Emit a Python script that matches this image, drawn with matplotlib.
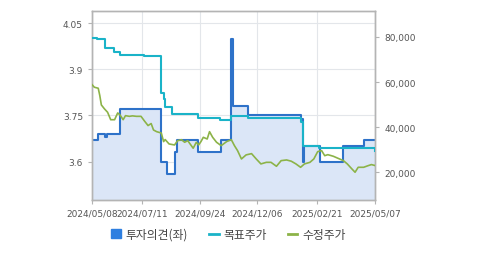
import matplotlib
matplotlib.use("Agg")
import matplotlib.pyplot as plt
import matplotlib.dates as mdates
from matplotlib.lines import Line2D
from matplotlib.patches import Patch
from matplotlib.ticker import FuncFormatter
import pandas as pd

# 투자의견(좌) - step series on left axis
opinion_dates = ["2024-05-08", "2024-05-16", "2024-05-25", "2024-05-27", "2024-06-13",
                 "2024-08-04", "2024-08-12", "2024-08-22", "2024-08-25", "2024-09-21",
                 "2024-10-21", "2024-11-03", "2024-11-05", "2024-11-25", "2025-01-31",
                 "2025-02-03", "2025-02-05", "2025-02-25", "2025-03-26", "2025-04-22",
                 "2025-05-07"]
opinion = [3.67, 3.69, 3.68, 3.69, 3.77,
           3.60, 3.56, 3.63, 3.67, 3.63,
           3.67, 4.00, 3.78, 3.75, 3.74,
           3.60, 3.65, 3.60, 3.65, 3.67,
           3.67]

# 목표주가 - step series on right axis
target_dates = ["2024-05-08", "2024-05-14", "2024-05-25", "2024-06-05", "2024-06-13",
                "2024-07-14", "2024-08-04", "2024-08-05", "2024-08-08", "2024-08-10",
                "2024-08-19", "2024-08-26", "2024-09-21", "2024-10-20", "2024-11-03",
                "2024-11-25", "2025-01-31", "2025-02-03", "2025-02-24", "2025-05-06",
                "2025-05-07"]
target = [79700, 79300, 75000, 73200, 72150,
          71450, 62800, 55000, 52500, 48800,
          45700, 46000, 44000, 43300, 45000,
          44200, 42200, 31800, 30800, 29600,
          29600]

# 수정주가 - adjusted close on right axis
price_dates = ["2024-05-08", "2024-05-11", "2024-05-16", "2024-05-18", "2024-05-20",
               "2024-05-24", "2024-05-28", "2024-06-01", "2024-06-06", "2024-06-10",
               "2024-06-13", "2024-06-17", "2024-06-20", "2024-06-25", "2024-06-29",
               "2024-07-04", "2024-07-10", "2024-07-14", "2024-07-19", "2024-07-23",
               "2024-07-26", "2024-07-30", "2024-08-05", "2024-08-08", "2024-08-10",
               "2024-08-15", "2024-08-22", "2024-08-26", "2024-08-31", "2024-09-04",
               "2024-09-08", "2024-09-15", "2024-09-19", "2024-09-22", "2024-09-25",
               "2024-09-28", "2024-10-03", "2024-10-06", "2024-10-10", "2024-10-15",
               "2024-10-21", "2024-10-28", "2024-11-03", "2024-11-07", "2024-11-11",
               "2024-11-16", "2024-11-22", "2024-11-29", "2024-12-05", "2024-12-11",
               "2024-12-18", "2024-12-24", "2024-12-31", "2025-01-06", "2025-01-13",
               "2025-01-19", "2025-01-25", "2025-01-31", "2025-02-05", "2025-02-12",
               "2025-02-17", "2025-02-22", "2025-02-27", "2025-03-03", "2025-03-07",
               "2025-03-14", "2025-03-20", "2025-03-27", "2025-04-01", "2025-04-07",
               "2025-04-11", "2025-04-15", "2025-04-22", "2025-04-28", "2025-05-02",
               "2025-05-07"]
price = [58850, 57700, 57250, 54000, 49850,
         48100, 46600, 43300, 43300, 46300,
         45400, 43300, 45100, 44800, 45000,
         44800, 44800, 42900, 40700, 41600,
         38750, 38000, 37400, 33600, 34500,
         32550, 32100, 34000, 34450, 33300,
         34000, 30650, 33300, 32100, 33600,
         35500, 34750, 38000, 35500, 33300,
         31800, 33600, 34450, 31800, 29600,
         25900, 27700, 28250, 25900, 23700,
         24400, 24400, 22650, 25150, 25450,
         24900, 23700, 22200, 23700, 24400,
         25900, 29150, 29600, 27350, 27800,
         27100, 26200, 25150, 23700, 21450,
         20000, 22200, 22200, 22950, 23400,
         22950]

tick_dates = ["2024-05-08", "2024-07-11", "2024-09-24", "2024-12-06", "2025-02-21", "2025-05-07"]
left_ticks = [3.6, 3.75, 3.9, 4.05]
right_ticks = [20000, 40000, 60000, 80000]

plt.rcParams["font.family"] = ["DejaVu Sans", "Noto Sans CJK KR"]

fig = plt.figure(figsize=(4.79, 2.55), dpi=100)
ax = fig.add_axes([0.1921, 0.2118, 0.5914, 0.7411])
ax2 = ax.twinx()

od = pd.to_datetime(opinion_dates)
td = pd.to_datetime(target_dates)
pdt = pd.to_datetime(price_dates)

ymin, ymax = 3.475, 4.09
ax.fill_between(od, opinion, ymin, step="post", color="#dbe6f7", lw=0, zorder=1)
ax.step(od, opinion, where="post", color="#2e72c9", lw=1.5, zorder=2)
ax.set_ylim(ymin, ymax)
ax.set_yticks(left_ticks)
ax.set_yticklabels(["3.6", "3.75", "3.9", "4.05"])

ax2.step(td, target, where="post", color="#1ab3c8", lw=1.5, zorder=3)
ax2.plot(pdt, price, color="#8cb348", lw=1.2, zorder=4)
ax2.set_ylim(7700, 91500)
ax2.set_yticks(right_ticks)
ax2.yaxis.set_major_formatter(FuncFormatter(lambda v, p: f"{int(v):,}"))

ax.set_xlim(pd.Timestamp("2024-05-08"), pd.Timestamp("2025-05-07"))
ax.set_xticks(pd.to_datetime(tick_dates))
ax.xaxis.set_major_formatter(mdates.DateFormatter("%Y/%m/%d"))

ax.grid(True, color="#e3e6ea", lw=0.8)
ax.set_axisbelow(True)
ax.set_zorder(ax2.get_zorder() - 1)
ax.patch.set_visible(True)
ax2.patch.set_visible(False)

for a in (ax, ax2):
    for s in a.spines.values():
        s.set_color("#b4b4b4")
        s.set_linewidth(1.0)
    a.tick_params(colors="#b4b4b4", labelcolor="#555555", labelsize=6.5, length=3, width=0.8)
ax.tick_params(axis="x", pad=3)

handles = [Patch(color="#2e7fe0"),
           Line2D([], [], color="#1ab3c8", lw=2),
           Line2D([], [], color="#8cb348", lw=2)]
labels = ["투자의견(좌)", "목표주가", "수정주가"]
fig.legend(handles, labels, loc="center", bbox_to_anchor=(0.477, 0.077), ncol=3,
           frameon=False, handlelength=0.8, handleheight=0.8, handletextpad=0.4,
           columnspacing=1.8, prop={"family": ["Noto Sans CJK KR"], "size": 8.5},
           labelcolor="#444444")

fig.savefig("out.png", dpi=100)
